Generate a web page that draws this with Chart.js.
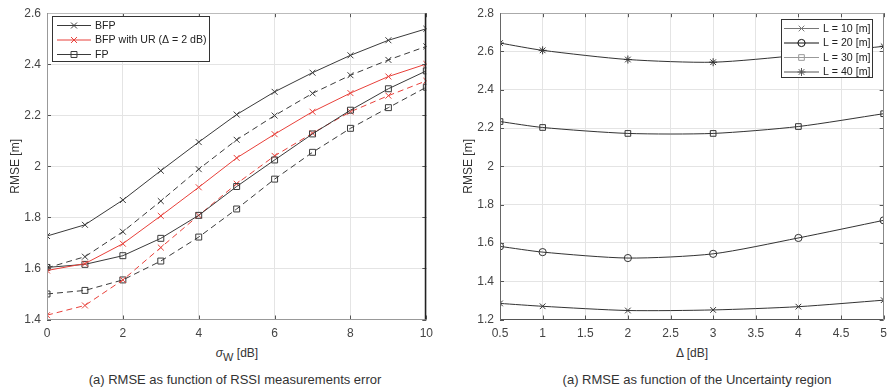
<!DOCTYPE html>
<html><head><meta charset="utf-8">
<script src="https://cdn.jsdelivr.net/npm/chart.js@4/dist/chart.umd.min.js"></script>
<style>
html,body{margin:0;padding:0;background:#fff;}
body{width:888px;height:392px;position:relative;overflow:hidden;font-family:"Liberation Sans",Arial,sans-serif;color:#333;}
canvas{position:absolute;top:0;}
#c1{left:0;}
#c2{left:440px;}
.lbl{position:absolute;white-space:nowrap;transform:translateX(-50%);line-height:14px;}
.xt{font-size:12px;top:346px;}
.cap{font-size:13px;top:373px;}
</style></head>
<body>
<canvas id="c1" width="440" height="345"></canvas>
<canvas id="c2" width="454" height="345"></canvas>
<div class="lbl xt" style="left:237px"><span style="font-style:italic">σ</span><span style="font-size:11px;position:relative;top:4px">W</span> [dB]</div>
<div class="lbl xt" style="left:692px">Δ [dB]</div>
<div class="lbl cap" style="left:235px">(a) RMSE as function of RSSI measurements error</div>
<div class="lbl cap" style="left:697px">(a) RMSE as function of the Uncertainty region</div>
<script>
// ---- Left chart data ----
const sigmaW = [0,1,2,3,4,5,6,7,8,9,10];
const bfp          = [1.727,1.771,1.868,1.983,2.095,2.203,2.292,2.367,2.435,2.494,2.539];
const bfpDashed    = [1.602,1.646,1.744,1.864,1.989,2.104,2.199,2.286,2.357,2.417,2.470];
const bfpUR        = [1.592,1.619,1.697,1.806,1.918,2.033,2.126,2.214,2.287,2.352,2.401];
const bfpURDashed  = [1.417,1.455,1.555,1.682,1.808,1.932,2.041,2.130,2.214,2.277,2.335];
const fp           = [1.604,1.616,1.650,1.718,1.808,1.921,2.025,2.127,2.220,2.304,2.374];
const fpDashed     = [1.500,1.514,1.555,1.629,1.723,1.833,1.950,2.055,2.149,2.230,2.310];
const leftLabels   = ['BFP','BFP with UR (Δ = 2 dB)','FP'];

// ---- Right chart data ----
const delta = [0.5,1,2,3,4,5];
const L10 = [1.284,1.269,1.247,1.250,1.267,1.301];
const L20 = [1.582,1.552,1.521,1.543,1.626,1.718];
const L30 = [2.234,2.203,2.172,2.172,2.208,2.275];
const L40 = [2.644,2.606,2.558,2.544,2.580,2.627];
const rightLabels = ['L = 10 [m]','L = 20 [m]','L = 30 [m]','L = 40 [m]'];

const FONT = "'Liberation Sans', Arial, sans-serif";
const BLACK = '#3a3a3a';
const RED = '#e8403a';

function pts(xs, ys){ return ys.map((v,i)=>({x:xs[i], y:v})); }

function ds(label, xs, ys, color, style, radius, dashed, inLegend, legendColor){
  return {
    label, data: pts(xs, ys), borderColor: color, borderWidth: 1,
    borderDash: dashed ? [6,4] : [],
    pointStyle: style, pointRadius: radius, pointHoverRadius: radius,
    pointBorderColor: color, pointBackgroundColor: 'rgba(0,0,0,0)', pointBorderWidth: 1,
    inLegend: inLegend, legendColor: legendColor || color,
    tension: 0, fill: false
  };
}

const boxPlugin = {
  id: 'boxTicks',
  afterDatasetsDraw(chart, args, opts){
    const {ctx, chartArea:a, scales} = chart;
    ctx.save();
    ctx.lineWidth = 1;
    ctx.strokeStyle = '#555';
    const tl = 4;
    scales.x.ticks.forEach(t=>{
      const x = Math.round(scales.x.getPixelForValue(t.value))+0.5;
      ctx.beginPath();
      ctx.moveTo(x, a.bottom); ctx.lineTo(x, a.bottom - tl);
      ctx.moveTo(x, a.top); ctx.lineTo(x, a.top + tl);
      ctx.stroke();
    });
    scales.y.ticks.forEach(t=>{
      const y = Math.round(scales.y.getPixelForValue(t.value))+0.5;
      ctx.beginPath();
      ctx.moveTo(a.left, y); ctx.lineTo(a.left + tl, y);
      ctx.moveTo(a.right, y); ctx.lineTo(a.right - tl, y);
      ctx.stroke();
    });
    const L = Math.round(a.left)+0.5, R = Math.round(a.right)-0.5, T = Math.round(a.top)+0.5, B = Math.round(a.bottom)-0.5;
    const side = (c,w,x1,y1,x2,y2)=>{ctx.strokeStyle=c;ctx.lineWidth=w;ctx.beginPath();ctx.moveTo(x1,y1);ctx.lineTo(x2,y2);ctx.stroke();};
    side(opts.top, 1, L, T, R, T);
    side(opts.left, 1, L, T, L, B);
    side(opts.bottom, 1, L, B, R, B);
    side(opts.right, opts.rightW||1, R, T, R, B);
    ctx.restore();
  }
};

const legendPlugin = {
  id: 'boxLegend',
  afterDraw(chart, args, o){
    const ctx = chart.ctx;
    const items = chart.data.datasets.filter(d=>d.inLegend);
    ctx.save();
    ctx.fillStyle = '#fff';
    ctx.fillRect(o.x, o.y, o.w, o.h);
    ctx.strokeStyle = '#333';
    ctx.lineWidth = 1;
    ctx.strokeRect(o.x+0.5, o.y+0.5, o.w-1, o.h-1);
    ctx.font = '10.6px ' + FONT;
    ctx.textBaseline = 'middle';
    items.forEach((d,i)=>{
      const y = o.y0 + i*o.dy;
      ctx.strokeStyle = d.legendColor;
      ctx.lineWidth = 1;
      ctx.setLineDash([]);
      ctx.beginPath(); ctx.moveTo(o.lx1, y); ctx.lineTo(o.lx2, y); ctx.stroke();
      ctx.fillStyle = 'rgba(0,0,0,0)';
      Chart.helpers.drawPoint(ctx, {pointStyle:d.pointStyle, radius:d.pointRadius, borderWidth:1, rotation:0}, (o.lx1+o.lx2)/2, y);
      ctx.fillStyle = '#222';
      ctx.fillText(d.label, o.tx, y+0.5);
    });
    ctx.restore();
  }
};

function fmt(v){ return String(Number(v.toFixed(2))); }

function scalesCfg(xmin,xmax,xstep,ymin,ymax,ystep,yW){
  const tickFont = {family: FONT, size: 12};
  return {
    x: {type:'linear', min:xmin, max:xmax,
        ticks:{stepSize:xstep, color:'#444', font:tickFont, padding:7, maxRotation:0, callback:fmt, autoSkip:false},
        grid:{color:'#e4e4e4', drawTicks:false}, border:{display:false},
        afterFit(s){ s.height = 25.5; }},
    y: {type:'linear', min:ymin, max:ymax,
        ticks:{stepSize:ystep, color:'#444', font:tickFont, padding:6, callback:fmt, autoSkip:false},
        grid:{color:'#e4e4e4', drawTicks:false}, border:{display:false},
        title:{display:true, text:'RMSE [m]', color:'#333', font:{family:FONT, size:12}, padding:{top:4,bottom:4}},
        afterFit(s){ s.width = yW; }}
  };
}

new Chart(document.getElementById('c1'), {
  type:'line',
  data:{datasets:[
    ds(leftLabels[0], sigmaW, bfp, BLACK, 'crossRot', 4.2, false, true),
    ds(leftLabels[1], sigmaW, bfpUR, RED, 'crossRot', 4.2, false, true),
    ds(leftLabels[2], sigmaW, fp, BLACK, 'rect', 4.2, false, true),
    ds('BFP (dashed)', sigmaW, bfpDashed, BLACK, 'crossRot', 4.2, true, false),
    ds('BFP with UR (dashed)', sigmaW, bfpURDashed, RED, 'crossRot', 4.2, true, false),
    ds('FP (dashed)', sigmaW, fpDashed, BLACK, 'rect', 4.2, true, false)
  ]},
  options:{
    responsive:false, animation:false, events:[],
    layout:{padding:{left:4, right:13, top:9.5, bottom:0}},
    scales: scalesCfg(0,10,2,1.4,2.6,0.2,43),
    plugins:{
      legend:{display:false}, tooltip:{enabled:false},
      boxTicks:{top:'#bbb', left:'#999', bottom:'#999', right:'#222', rightW:1.5},
      boxLegend:{x:52, y:16, w:158, h:46, y0:25.5, dy:14.5, lx1:57, lx2:91, tx:95}
    }
  },
  plugins:[boxPlugin, legendPlugin]
});

new Chart(document.getElementById('c2'), {
  type:'line',
  data:{datasets:[
    Object.assign(ds(rightLabels[0], delta, L10, '#333', 'crossRot', 4, false, true, '#777'), {tension:0.25}),
    Object.assign(ds(rightLabels[1], delta, L20, '#333', 'circle', 3.6, false, true, '#111'), {tension:0.25}),
    Object.assign(ds(rightLabels[2], delta, L30, '#333', 'rect', 4, false, true, '#999'), {tension:0.25}),
    Object.assign(ds(rightLabels[3], delta, L40, '#333', 'star', 4, false, true, '#555'), {tension:0.25})
  ]},
  options:{
    responsive:false, animation:false, events:[],
    layout:{padding:{left:17, right:0, top:9, bottom:0}},
    scales: scalesCfg(0.5,5,0.5,1.2,2.8,0.2,43),
    plugins:{
      legend:{display:false}, tooltip:{enabled:false},
      boxTicks:{top:'#aaa', left:'#666', bottom:'#555', right:'#888'},
      boxLegend:{x:341, y:19, w:92, h:59, y0:28.5, dy:14.5, lx1:344, lx2:379, tx:383}
    }
  },
  plugins:[boxPlugin, legendPlugin]
});
</script>
</body></html>
